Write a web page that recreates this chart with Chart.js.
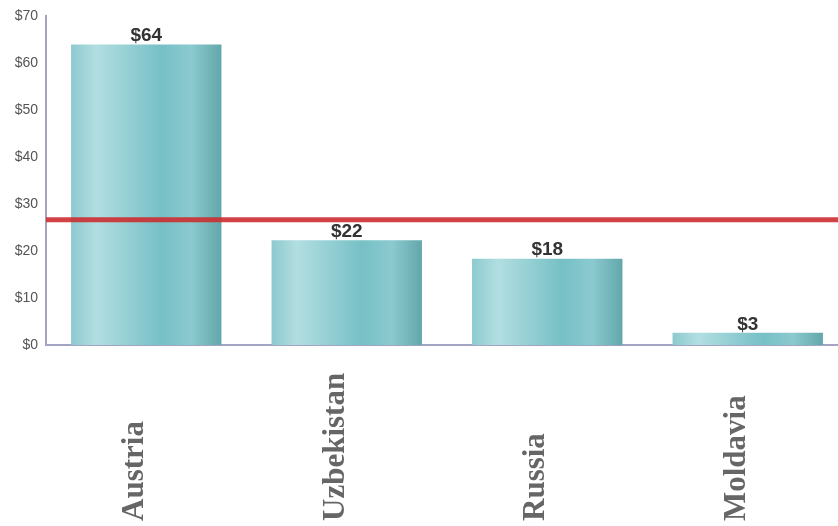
<!DOCTYPE html>
<html>
<head>
<meta charset="utf-8">
<script src="https://cdn.jsdelivr.net/npm/chart.js@4/dist/chart.umd.min.js"></script>
<style>
    html, body {margin: 0; padding: 0; background: #fff; overflow: hidden;}
    /* plot runs a little past the right edge of the window, as in the original */
    #wrap {width: 848px; height: 526px; position: relative;}
</style>
</head>
<body>
<div id="wrap"><canvas id="chart"></canvas></div>
<script>
const countries = ['Austria', 'Uzbekistan', 'Russia', 'Moldavia'];
const amounts = [64, 22.3, 18.4, 2.6];
const averageAmount = 26.7;
const yTicks = [0, 10, 20, 30, 40, 50, 60, 70];

// horizontal shading on each bar, like a glossy cylinder
const barShading = {
    id: 'barShading',
    beforeDatasetDraw(chart, args) {
        const ctx = chart.ctx;
        args.meta.data.forEach(bar => {
            const left = bar.x - bar.width / 2;
            const g = ctx.createLinearGradient(left, 0, left + bar.width, 0);
            g.addColorStop(0, '#8ccacf');
            g.addColorStop(0.17, '#b2dee1');
            g.addColorStop(0.6, '#76c0c6');
            g.addColorStop(0.8, '#8bcacf');
            g.addColorStop(1, '#62a7ab');
            bar.options.backgroundColor = g;
        });
    }
};

const averageLine = {
    id: 'averageLine',
    afterDatasetsDraw(chart) {
        const ctx = chart.ctx;
        const y = chart.scales.y.getPixelForValue(averageAmount);
        ctx.save();
        ctx.strokeStyle = 'rgba(204, 45, 48, 0.9)';
        ctx.lineWidth = 5;
        ctx.beginPath();
        ctx.moveTo(chart.chartArea.left, y);
        ctx.lineTo(chart.chartArea.right, y);
        ctx.stroke();
        ctx.restore();
    }
};

const valueLabels = {
    id: 'valueLabels',
    afterDatasetsDraw(chart) {
        const ctx = chart.ctx;
        ctx.save();
        ctx.font = 'bold 19px "Liberation Sans", Arial, sans-serif';
        ctx.fillStyle = '#333333';
        ctx.textAlign = 'center';
        ctx.textBaseline = 'bottom';
        chart.getDatasetMeta(0).data.forEach((bar, i) => {
            ctx.fillText('$' + Math.round(amounts[i]), bar.x, bar.y + 1);
        });
        ctx.restore();
    }
};

// category names read upward, starting from the bottom edge
const categoryLabels = {
    id: 'categoryLabels',
    afterDraw(chart) {
        const ctx = chart.ctx;
        const x = chart.scales.x;
        ctx.save();
        ctx.font = 'bold 31px "Liberation Serif", "Times New Roman", serif';
        ctx.fillStyle = '#666666';
        ctx.textAlign = 'left';
        ctx.textBaseline = 'middle';
        countries.forEach((name, i) => {
            ctx.save();
            ctx.translate(x.getPixelForTick(i) - 11, chart.height - 5);
            ctx.rotate(-Math.PI / 2);
            ctx.fillText(name, 0, 0);
            ctx.restore();
        });
        ctx.restore();
    }
};

new Chart(document.getElementById('chart'), {
    type: 'bar',
    data: {
        labels: countries,
        datasets: [{
            data: amounts,
            backgroundColor: () => '#7cc2c8',
            borderWidth: 0,
            categoryPercentage: 1,
            barPercentage: 0.75
        }]
    },
    options: {
        responsive: true,
        maintainAspectRatio: false,
        animation: false,
        layout: {padding: {top: 10, right: 0, left: 0, bottom: 0}},
        plugins: {legend: {display: false}, tooltip: {enabled: false}},
        scales: {
            x: {
                grid: {display: false, drawTicks: false},
                border: {color: '#a3a3c4', width: 2},
                afterFit: axis => { axis.height = 181; },
                ticks: {display: false}
            },
            y: {
                min: 0,
                max: 70,
                afterBuildTicks: axis => { axis.ticks = yTicks.map(v => ({value: v})); },
                grid: {display: false, drawTicks: false},
                border: {color: '#a3a3c4', width: 2},
                afterFit: axis => { axis.width = 46; },
                ticks: {
                    padding: 8,
                    color: '#555555',
                    font: {family: '"Liberation Sans Narrow", "Liberation Sans", Arial, sans-serif', size: 14},
                    callback: v => '$' + v
                }
            }
        }
    },
    plugins: [barShading, averageLine, valueLabels, categoryLabels]
});
</script>
</body>
</html>
